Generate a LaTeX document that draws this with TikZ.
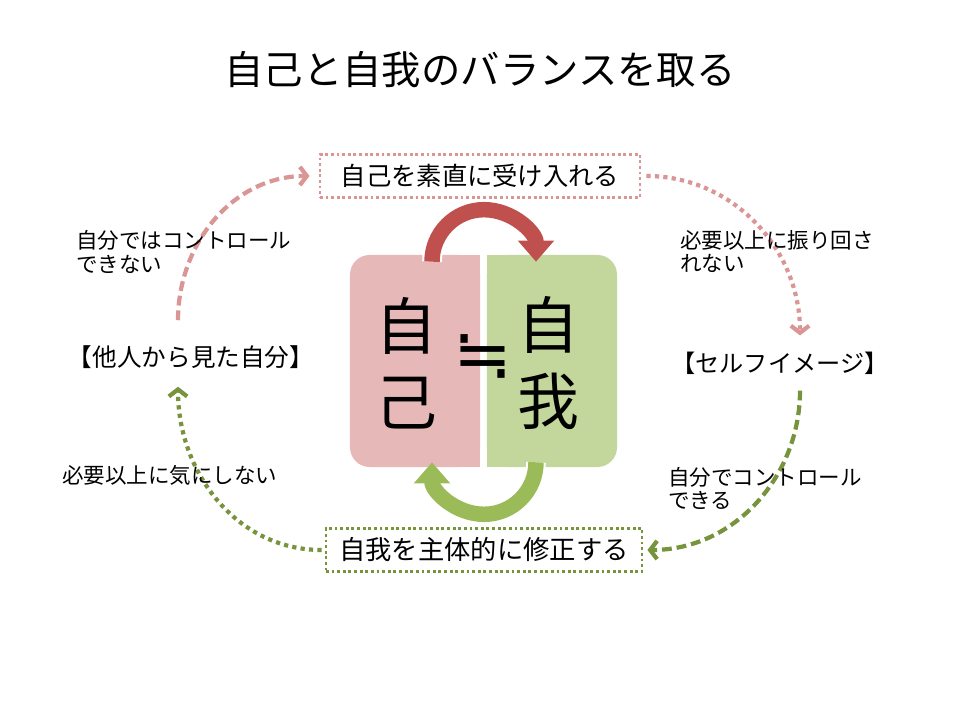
\documentclass[tikz,border=0pt]{standalone}
\usepackage{fontspec}
\setmainfont{Noto Sans CJK JP}
\newfontfamily\symfont{DejaVu Sans}
\usetikzlibrary{arrows.meta, positioning, calc}

\definecolor{jikofill}{HTML}{E6B9B8}
\definecolor{jigafill}{HTML}{C3D69B}
\definecolor{jikoarc}{HTML}{C0504D}
\definecolor{jigaarc}{HTML}{9BBB59}
\definecolor{jikoline}{HTML}{D99694}
\definecolor{jigaline}{HTML}{77933C}

\begin{document}
\begin{tikzpicture}[
    x=0.025cm, y=0.025cm,
    title/.style={font=\fontsize{28}{34}\selectfont},
    stepbox/.style={draw, line width=2pt, inner sep=0pt, minimum height=1.075cm, dash pattern=on 2pt off 2pt},
    half/.style={rounded corners=14pt, minimum width=3.25cm, minimum height=5.3cm, inner sep=0pt},
    big/.style={font=\fontsize{44}{54}\selectfont, align=center, inner sep=0pt},
    side/.style={font=\fontsize{17.5}{20}\selectfont, inner sep=0pt},
    note/.style={font=\fontsize{15.3}{16.4}\selectfont, align=left, anchor=west, inner sep=0pt},
    dashline/.style={line width=3pt, dash pattern=on 7pt off 3.5pt, -{Straight Barb[length=5pt, width=13pt]}},
    dotline/.style={line width=3pt, dash pattern=on 3pt off 3pt, -{Straight Barb[length=5pt, width=13pt]}},
    bigarc/.style={line width=11pt, preaction={draw=white, line width=14pt, shorten >=16pt}, -{Triangle[length=15pt, width=25pt]}},
  ]
  \useasboundingbox (0,0) rectangle (960,720);

  % --- Title ---
  \node[title] (title) at (480,650) {自己と自我のバランスを取る};

  % --- Centre halves ---
  \node[half, fill=jikofill] (jikobg) at (415,359) {};
  \fill[jikofill] (jikobg.north) rectangle (jikobg.south east);
  \node[half, fill=jigafill] (jigabg) at (552,359) {};
  \fill[jigafill] (jigabg.north west) rectangle (jigabg.south);

  \node[big] (jiko) at (406,357) {自\\己};
  \node[big] (jiga) at (548,357) {自\\我};
  \node[font=\symfont\fontsize{50}{50}\selectfont, inner sep=0pt] (approx) at (483,363) {≒};

  % --- Top and bottom boxes ---
  \node[stepbox, draw=jikoline, minimum width=8cm, font=\fontsize{18}{22}\selectfont] (accept) at (480,544) {自己を素直に受け入れる};
  \node[stepbox, draw=jigaline, minimum width=7.9cm, font=\fontsize{18.7}{23}\selectfont] (modify) at (484,170) {自我を主体的に修正する};

  % --- Side nodes ---
  \node[side] (others) at (191,363) {【他人から見た自分】};
  \node[side, font=\fontsize{17.2}{20}\selectfont] (selfimg) at (780,357) {【セルフイメージ】};

  % --- Arcs between the halves ---
  \draw[bigarc, jikoarc] ($(jikobg.north)+(17,-7)$) arc[start angle=180, end angle=0, radius=52];
  \draw[bigarc, jigaarc] ($(jigabg.south)+(-16,5)$) arc[start angle=0, end angle=-180, radius=52];

  % --- Outer cycle ---
  \draw[dashline, jikoline] ($(others.north)+(-13,25)$) to[out=90, in=180] ($(accept.west)+(-9,0)$);
  \draw[dotline, jikoline] ($(accept.east)+(5,0)$) to[out=0, in=90] ($(selfimg.north)+(20,16)$);
  \draw[dashline, jigaline] ($(selfimg.south)+(20,-16)$) to[out=-90, in=0] ($(modify.east)+(4,0)$);
  \draw[dotline, jigaline] ($(modify.west)+(-3,0)$) to[out=180, in=-90] ($(others.south)+(-13,-18)$);

  % --- Labels on the cycle ---
  \node[note] (cannot) at (76,468) {自分ではコントロール\\できない};
  \node[note] (swayed) at (680,468) {必要以上に振り回さ\\れない};
  \node[note] (mind) at (62,245) {必要以上に気にしない};
  \node[note] (can) at (668,232) {自分でコントロール\\できる};

\end{tikzpicture}
\end{document}
